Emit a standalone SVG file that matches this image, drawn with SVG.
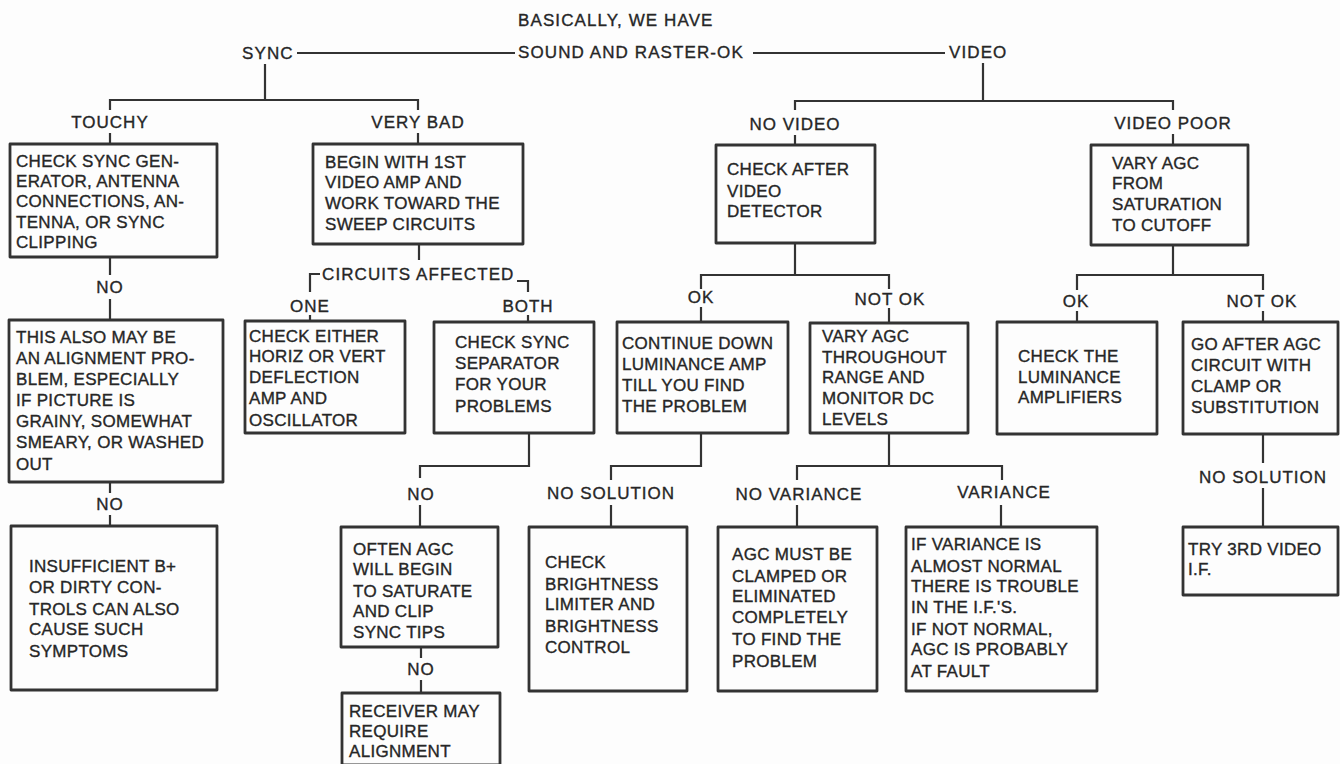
<svg xmlns="http://www.w3.org/2000/svg" width="1340" height="764" viewBox="0 0 1340 764">
<style>
.bg{fill:#fdfdfd}
.box{fill:none;stroke:#333;stroke-width:2.8;stroke-linejoin:round}
.ln{fill:none;stroke:#333;stroke-width:2.2}
.t,.lb,.hd{font-family:"Liberation Sans",Arial,sans-serif;font-size:17px;fill:#262626;stroke:#262626;stroke-width:0.35px}
.t{letter-spacing:0.3px}
.lb{letter-spacing:1px;text-anchor:middle}
.hd{letter-spacing:1.1px}
</style>
<rect class="bg" x="0" y="0" width="1340" height="764"/>

<g id="header">
<text class="hd" x="518" y="26">BASICALLY, WE HAVE</text>
<text class="hd" x="518" y="58">SOUND AND RASTER-OK</text>
</g>
<g id="sync"><text class="hd" x="242" y="59">SYNC</text></g>
<g id="video"><text class="hd" x="949" y="58">VIDEO</text></g>

<g id="connectors">
<path class="ln" d="M297 53 H515 M753 53 H945"/>
<path class="ln" d="M265 64 V100 M110 110 V100 H418 V110"/>
<path class="ln" d="M110 133 V144 M418 133 V144"/>
<path class="ln" d="M983 63 V101 M795 110 V101 H1173 V110"/>
<path class="ln" d="M795 135 V145 M1173 134 V145"/>
<path class="ln" d="M110 257 V275 M110 299 V320"/>
<path class="ln" d="M419 244 V260 M320 274 H310 V292 M517 281 H528 V292"/>
<path class="ln" d="M310 315 V321 M528 315 V322"/>
<path class="ln" d="M795 243 V275 M701 289 V275 H889 V289"/>
<path class="ln" d="M701 307 V322 M889 308 V323"/>
<path class="ln" d="M1173 245 V275 M1077 290 V275 H1263 V290"/>
<path class="ln" d="M1077 311 V322 M1263 311 V322"/>
<path class="ln" d="M110 482 V493 M110 515 V526"/>
<path class="ln" d="M529 433 V466 H420 V478 M420 505 V527"/>
<path class="ln" d="M701 433 V466 H611 V480 M611 505 V527"/>
<path class="ln" d="M889 433 V466 M797 480 V466 H1002 V480 M797 505 V527 M1001 505 V527"/>
<path class="ln" d="M1263 434 V463 M1263 488 V527"/>
<path class="ln" d="M421 647 V658 M421 680 V693"/>
</g>

<g id="labels">
<text class="lb" x="110" y="128">TOUCHY</text>
<text class="lb" x="418" y="128">VERY BAD</text>
<text class="lb" x="795" y="130">NO VIDEO</text>
<text class="lb" x="1173" y="129">VIDEO POOR</text>
<text class="lb" x="110" y="293">NO</text>
<text class="hd" x="322" y="280">CIRCUITS AFFECTED</text>
<text class="lb" x="310" y="312">ONE</text>
<text class="lb" x="528" y="312">BOTH</text>
<text class="lb" x="701" y="303">OK</text>
<text class="lb" x="890" y="305">NOT OK</text>
<text class="lb" x="1076" y="307">OK</text>
<text class="lb" x="1262" y="307">NOT OK</text>
<text class="lb" x="110" y="510">NO</text>
<text class="lb" x="421" y="500">NO</text>
<text class="lb" x="611" y="499">NO SOLUTION</text>
<text class="lb" x="799" y="500">NO VARIANCE</text>
<text class="lb" x="1004" y="498">VARIANCE</text>
<text class="lb" x="1263" y="483">NO SOLUTION</text>
<text class="lb" x="421" y="675">NO</text>
</g>

<g id="touchy">
<rect class="box" x="10" y="144" width="207" height="113"/>
<text class="t" x="16" y="167">CHECK SYNC GEN-</text>
<text class="t" x="16" y="187">ERATOR, ANTENNA</text>
<text class="t" x="16" y="207">CONNECTIONS, AN-</text>
<text class="t" x="16" y="228">TENNA, OR SYNC</text>
<text class="t" x="16" y="248">CLIPPING</text>
</g>
<g id="verybad">
<rect class="box" x="313" y="144" width="210" height="100"/>
<text class="t" x="325" y="168">BEGIN WITH 1ST</text>
<text class="t" x="325" y="188">VIDEO AMP AND</text>
<text class="t" x="325" y="209">WORK TOWARD THE</text>
<text class="t" x="325" y="230">SWEEP CIRCUITS</text>
</g>
<g id="checkafter">
<rect class="box" x="716" y="145" width="159" height="98"/>
<text class="t" x="727" y="175">CHECK AFTER</text>
<text class="t" x="727" y="197">VIDEO</text>
<text class="t" x="727" y="217">DETECTOR</text>
</g>
<g id="varyfrom">
<rect class="box" x="1091" y="145" width="157" height="100"/>
<text class="t" x="1112" y="169">VARY AGC</text>
<text class="t" x="1112" y="189">FROM</text>
<text class="t" x="1112" y="210">SATURATION</text>
<text class="t" x="1112" y="231">TO CUTOFF</text>
</g>

<g id="alignment1">
<rect class="box" x="9" y="320" width="214" height="162"/>
<text class="t" x="16" y="343">THIS ALSO MAY BE</text>
<text class="t" x="16" y="364">AN ALIGNMENT PRO-</text>
<text class="t" x="16" y="385">BLEM, ESPECIALLY</text>
<text class="t" x="16" y="406">IF PICTURE IS</text>
<text class="t" x="16" y="427">GRAINY, SOMEWHAT</text>
<text class="t" x="16" y="448">SMEARY, OR WASHED</text>
<text class="t" x="16" y="470">OUT</text>
</g>
<g id="checkeither">
<rect class="box" x="245" y="321" width="160" height="112"/>
<text class="t" x="249" y="342">CHECK EITHER</text>
<text class="t" x="249" y="362">HORIZ OR VERT</text>
<text class="t" x="249" y="383">DEFLECTION</text>
<text class="t" x="249" y="404">AMP AND</text>
<text class="t" x="249" y="426">OSCILLATOR</text>
</g>
<g id="syncsep">
<rect class="box" x="434" y="322" width="160" height="111"/>
<text class="t" x="455" y="348">CHECK SYNC</text>
<text class="t" x="455" y="369">SEPARATOR</text>
<text class="t" x="455" y="390">FOR YOUR</text>
<text class="t" x="455" y="412">PROBLEMS</text>
</g>
<g id="continue">
<rect class="box" x="617" y="322" width="171" height="111"/>
<text class="t" x="622" y="349">CONTINUE DOWN</text>
<text class="t" x="622" y="370">LUMINANCE AMP</text>
<text class="t" x="622" y="391">TILL YOU FIND</text>
<text class="t" x="622" y="412">THE PROBLEM</text>
</g>
<g id="varythrough">
<rect class="box" x="810" y="323" width="158" height="110"/>
<text class="t" x="822" y="342">VARY AGC</text>
<text class="t" x="822" y="363">THROUGHOUT</text>
<text class="t" x="822" y="383">RANGE AND</text>
<text class="t" x="822" y="404">MONITOR DC</text>
<text class="t" x="822" y="425">LEVELS</text>
</g>
<g id="checklum">
<rect class="box" x="997" y="322" width="160" height="112"/>
<text class="t" x="1018" y="362">CHECK THE</text>
<text class="t" x="1018" y="383">LUMINANCE</text>
<text class="t" x="1018" y="403">AMPLIFIERS</text>
</g>
<g id="goafter">
<rect class="box" x="1183" y="322" width="155" height="112"/>
<text class="t" x="1191" y="350">GO AFTER AGC</text>
<text class="t" x="1191" y="371">CIRCUIT WITH</text>
<text class="t" x="1191" y="392">CLAMP OR</text>
<text class="t" x="1191" y="413">SUBSTITUTION</text>
</g>

<g id="insufficient">
<rect class="box" x="11" y="526" width="206" height="164"/>
<text class="t" x="29" y="572">INSUFFICIENT B+</text>
<text class="t" x="29" y="593">OR DIRTY CON-</text>
<text class="t" x="29" y="615">TROLS CAN ALSO</text>
<text class="t" x="29" y="635">CAUSE SUCH</text>
<text class="t" x="29" y="657">SYMPTOMS</text>
</g>
<g id="oftenagc">
<rect class="box" x="341" y="527" width="157" height="120"/>
<text class="t" x="353" y="555">OFTEN AGC</text>
<text class="t" x="353" y="575">WILL BEGIN</text>
<text class="t" x="353" y="597">TO SATURATE</text>
<text class="t" x="353" y="617">AND CLIP</text>
<text class="t" x="353" y="638">SYNC TIPS</text>
</g>
<g id="receiver">
<rect class="box" x="342" y="693" width="158" height="72"/>
<text class="t" x="349" y="717">RECEIVER MAY</text>
<text class="t" x="349" y="737">REQUIRE</text>
<text class="t" x="349" y="757">ALIGNMENT</text>
</g>
<g id="brightness">
<rect class="box" x="529" y="527" width="158" height="164"/>
<text class="t" x="545" y="568">CHECK</text>
<text class="t" x="545" y="590">BRIGHTNESS</text>
<text class="t" x="545" y="610">LIMITER AND</text>
<text class="t" x="545" y="632">BRIGHTNESS</text>
<text class="t" x="545" y="653">CONTROL</text>
</g>
<g id="agcmust">
<rect class="box" x="718" y="527" width="159" height="164"/>
<text class="t" x="732" y="560">AGC MUST BE</text>
<text class="t" x="732" y="582">CLAMPED OR</text>
<text class="t" x="732" y="602">ELIMINATED</text>
<text class="t" x="732" y="623">COMPLETELY</text>
<text class="t" x="732" y="645">TO FIND THE</text>
<text class="t" x="732" y="667">PROBLEM</text>
</g>
<g id="ifvariance">
<rect class="box" x="906" y="527" width="191" height="164"/>
<text class="t" x="911" y="550">IF VARIANCE IS</text>
<text class="t" x="911" y="572">ALMOST NORMAL</text>
<text class="t" x="911" y="592">THERE IS TROUBLE</text>
<text class="t" x="911" y="613">IN THE I.F.'S.</text>
<text class="t" x="911" y="635">IF NOT NORMAL,</text>
<text class="t" x="911" y="655">AGC IS PROBABLY</text>
<text class="t" x="911" y="677">AT FAULT</text>
</g>
<g id="try3rd">
<rect class="box" x="1183" y="527" width="155" height="68"/>
<text class="t" x="1188" y="555">TRY 3RD VIDEO</text>
<text class="t" x="1188" y="575">I.F.</text>
</g>
</svg>
